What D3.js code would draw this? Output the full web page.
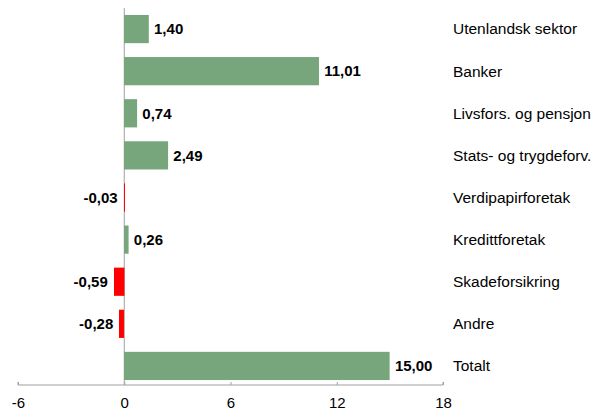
<!DOCTYPE html>
<html>
<head>
<meta charset="utf-8">
<script src="https://cdn.jsdelivr.net/npm/d3@7"></script>
<style>
body { margin: 0; background: #fff; }
text { font-family: "Liberation Sans", Arial, sans-serif; }
</style>
</head>
<body>
<script>
// Sector contributions, horizontal bars

var categories = ["Utenlandsk sektor", "Banker", "Livsfors. og pensjon",
    "Stats- og trygdeforv.", "Verdipapirforetak", "Kredittforetak",
    "Skadeforsikring", "Andre", "Totalt"];
var values = [1.40, 11.01, 0.74, 2.49, -0.03, 0.26, -0.59, -0.28, 15.00];
var ticks = [-6, 0, 6, 12, 18];

var w = 592;
var h = 416;

var x = d3.scaleLinear()
    .domain([-6, 18])
    .range([18, 443]);

var y = d3.scaleBand()
    .domain(categories)
    .range([8, 387])
    .paddingInner(0.33)
    .paddingOuter(0.165);

// Norwegian style: comma decimal, plain hyphen minus
var fmt = function(v) {
    return d3.format(".2f")(v).replace(".", ",").replace("\u2212", "-");
};

var svg = d3.select("body").append("svg")
    .attr("width", w)
    .attr("height", h);

// zero line (under the bars so tiny bars still show)
svg.append("line")
    .attr("x1", x(0)).attr("x2", x(0))
    .attr("y1", 8).attr("y2", 385)
    .attr("stroke", "#a0a0a0")
    .attr("stroke-width", 1);

// bars
svg.append("g").selectAll("rect")
    .data(values)
    .enter()
    .append("rect")
    .attr("x", function(d) { return Math.round(x(Math.min(0, d))); })
    .attr("y", function(d, i) { return y(categories[i]); })
    .attr("width", function(d) { return Math.max(1, Math.abs(x(d) - x(0))); })
    .attr("height", y.bandwidth())
    .attr("fill", function(d) { return d < 0 ? "#ff0000" : "#78a67c"; });

// value labels
svg.append("g").selectAll("text")
    .data(values)
    .enter()
    .append("text")
    .attr("x", function(d) { return d < 0 ? x(d) - 6 : x(d) + 5; })
    .attr("y", function(d, i) { return y(categories[i]) + y.bandwidth() / 2; })
    .attr("dy", "0.35em")
    .attr("text-anchor", function(d) { return d < 0 ? "end" : "start"; })
    .attr("font-size", 15)
    .attr("font-weight", "bold")
    .attr("fill", "#000")
    .text(fmt);

// category labels
svg.append("g").selectAll("text")
    .data(categories)
    .enter()
    .append("text")
    .attr("x", 453)
    .attr("y", function(d) { return y(d) + y.bandwidth() / 2; })
    .attr("dy", "0.35em")
    .attr("font-size", 15.5)
    .attr("fill", "#000")
    .text(function(d) { return d; });

// x axis
var axis = svg.append("g")
    .attr("transform", "translate(0,385)")
    .call(d3.axisBottom(x).tickValues(ticks).tickSize(-3).tickPadding(10)
        .tickFormat(function(d) { return String(d); }));

axis.select(".domain")
    .attr("stroke", "#a0a0a0")
    .attr("d", "M" + x(-6) + ",-3V0H" + x(18) + "V-3");
axis.selectAll(".tick line").attr("stroke", "#a0a0a0");
axis.selectAll(".tick text")
    .attr("font-size", 15)
    .attr("font-family", "'Liberation Sans', Arial, sans-serif")
    .attr("fill", "#000")
    .attr("dy", "0.85em");
</script>
</body>
</html>
